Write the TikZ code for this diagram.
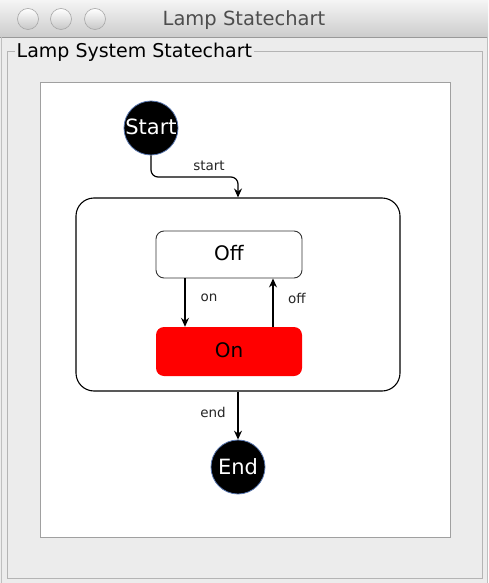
\documentclass[tikz,border=0pt]{standalone}
\usepackage{fontspec}
\setmainfont{DejaVu Sans}
\usetikzlibrary{arrows.meta,calc}
\definecolor{winbg}{HTML}{ECECEC}
\definecolor{framegray}{HTML}{B4B4B4}
\definecolor{panelgray}{HTML}{A0A0A0}
\definecolor{circedge}{HTML}{5A78B0}
\definecolor{lampred}{HTML}{FF0000}
\definecolor{titletext}{HTML}{4D4D4D}
\begin{document}
\begin{tikzpicture}[x=1pt,y=-1pt,
  arr/.style={draw=black,line width=1.2pt,-{Stealth[length=9pt,width=8pt,inset=3pt]}},
  pseudo/.style={circle,fill=black,draw=circedge,line width=0.8pt,minimum size=54pt,inner sep=0pt,text=white,font=\fontsize{21}{23}\selectfont},
  statebox/.style={rectangle,rounded corners=8pt,minimum width=146pt,inner sep=0pt,font=\fontsize{20}{22}\selectfont},
  tlabel/.style={font=\fontsize{13.5}{15}\selectfont,text=black!85,inner sep=1pt},
  winbtn/.style={circle,minimum size=21pt,inner sep=0pt,draw=black!35,line width=0.6pt,top color=white,bottom color=black!22}
]
\useasboundingbox (0,0) rectangle (488,583);
% window
\fill[winbg] (0,0) rectangle (488,583);
\shade[top color=black!4,bottom color=black!20] (0,0) rectangle (488,37);
\draw[black!40,line width=0.8pt] (0,37) -- (488,37);
\draw[black!25,line width=0.8pt] (1,37) -- (1,583) (487,37) -- (487,583);
\node[winbtn] (b1) at (28,19) {};
\node[winbtn] (b2) at (61,19) {};
\node[winbtn] (b3) at (95,19) {};
\node[text=titletext,font=\fontsize{19.5}{21}\selectfont] (title) at (244,20) {Lamp Statechart};
% group box
\draw[framegray,line width=0.9pt] (7,51) rectangle (482,578);
\node[fill=winbg,anchor=west,inner sep=1.5pt,font=\fontsize{19}{21}\selectfont] (grp) at (15,52) {Lamp System Statechart};
% white panel
\draw[panelgray,fill=white,line width=0.9pt] (40,82) rectangle (450,537);
% states
\node[pseudo] (start) at (151,128) {\raisebox{2pt}{Start}};
\node[draw=black,line width=1.1pt,rounded corners=18pt,minimum width=324pt,minimum height=193pt,inner sep=0pt] (comp) at (238,294.5) {};
\node[statebox,draw=black!80,line width=0.9pt,fill=white,minimum height=47pt] (off) at (229,254.5) {\raisebox{3pt}{Off}};
\node[statebox,fill=lampred,minimum height=49pt] (on) at (229,351.5) {\raisebox{2pt}{On}};
\node[pseudo] (end) at (238,467) {\raisebox{1pt}{End}};
% transitions
\coordinate (sbend) at (194,177);
\draw[arr,rounded corners=7pt] (start.south) |- (sbend) -| (comp.north);
\node[tlabel] (lstart) at (209,166) {start};
\draw[arr] ([xshift=-44pt]off.south) -- ([xshift=-44pt]on.north);
\node[tlabel] (lon) at (209,298) {on};
\draw[arr] ([xshift=44pt]on.north) -- ([xshift=44pt]off.south);
\node[tlabel] (loff) at (297,298) {off};
\draw[arr] (comp.south) -- (end.north);
\node[tlabel] (lend) at (213,412) {end};
\end{tikzpicture}
\end{document}
